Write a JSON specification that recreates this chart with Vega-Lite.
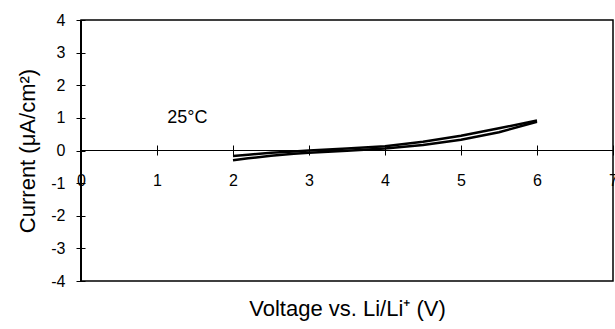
{
  "$schema": "https://vega.github.io/schema/vega-lite/v6.json",
  "width": 532,
  "height": 261,
  "autosize": {"type": "none"},
  "padding": {"left": 81, "top": 20, "right": 2, "bottom": 48},
  "background": "white",
  "config": {
    "font": "Liberation Sans",
    "view": {"stroke": "black", "strokeWidth": 1.5},
    "axis": {"grid": false}
  },
  "datasets": {
    "cv": [
      {"v": 2.0, "i": -0.3, "branch": "forward", "k": 1},
      {"v": 2.2, "i": -0.24, "branch": "forward", "k": 2},
      {"v": 2.5, "i": -0.16, "branch": "forward", "k": 3},
      {"v": 2.8, "i": -0.1, "branch": "forward", "k": 4},
      {"v": 3.0, "i": -0.07, "branch": "forward", "k": 5},
      {"v": 3.5, "i": -0.01, "branch": "forward", "k": 6},
      {"v": 4.0, "i": 0.06, "branch": "forward", "k": 7},
      {"v": 4.5, "i": 0.17, "branch": "forward", "k": 8},
      {"v": 5.0, "i": 0.33, "branch": "forward", "k": 9},
      {"v": 5.5, "i": 0.56, "branch": "forward", "k": 10},
      {"v": 6.0, "i": 0.88, "branch": "forward", "k": 11},
      {"v": 6.0, "i": 0.92, "branch": "reverse", "k": 12},
      {"v": 5.5, "i": 0.68, "branch": "reverse", "k": 13},
      {"v": 5.0, "i": 0.45, "branch": "reverse", "k": 14},
      {"v": 4.5, "i": 0.27, "branch": "reverse", "k": 15},
      {"v": 4.0, "i": 0.13, "branch": "reverse", "k": 16},
      {"v": 3.5, "i": 0.06, "branch": "reverse", "k": 17},
      {"v": 3.0, "i": 0.0, "branch": "reverse", "k": 18},
      {"v": 2.8, "i": -0.03, "branch": "reverse", "k": 19},
      {"v": 2.5, "i": -0.07, "branch": "reverse", "k": 20},
      {"v": 2.2, "i": -0.13, "branch": "reverse", "k": 21},
      {"v": 2.0, "i": -0.17, "branch": "reverse", "k": 22}
    ],
    "labels": [{"v": 1.4, "i": 1.0, "label": "25°C"}],
    "zero": [{"i": 0}],
    "left": [{"v": 0}]
  },
  "encoding": {
    "x": {
      "field": "v",
      "type": "quantitative",
      "scale": {"domain": [0, 7], "nice": false, "zero": false},
      "axis": {
        "orient": "bottom",
        "offset": -136,
        "values": [0, 1, 2, 3, 4, 5, 6, 7],
        "labelExpr": "'' + datum.value",
        "domain": false,
        "tickSize": 10,
        "tickColor": "black",
        "tickWidth": 1,
        "labelPadding": 17,
        "labelFontSize": 16,
        "labelColor": "black",
        "labelOverlap": false,
        "labelFlush": false,
        "title": "Voltage vs. Li/Li⁺ (V)",
        "titleFontSize": 22,
        "titleFontWeight": "normal",
        "titleColor": "black",
        "titleY": 170,
        "titleBaseline": "alphabetic"
      }
    },
    "y": {
      "field": "i",
      "type": "quantitative",
      "scale": {"domain": [-4, 4], "nice": false, "zero": false},
      "axis": {
        "orient": "left",
        "values": [-4, -3, -2, -1, 0, 1, 2, 3, 4],
        "labelExpr": "'' + datum.value",
        "domain": false,
        "offset": -4,
        "tickSize": 9,
        "tickColor": "black",
        "tickWidth": 1,
        "labelPadding": 11,
        "labelFontSize": 16,
        "labelColor": "black",
        "labelOverlap": false,
        "labelFlush": false,
        "title": "Current (μA/cm²)",
        "titleFontSize": 22,
        "titleFontWeight": "normal",
        "titleColor": "black",
        "titleX": -51,
        "titleBaseline": "alphabetic"
      }
    }
  },
  "layer": [
    {
      "data": {"name": "zero"},
      "mark": {"type": "rule", "color": "black", "strokeWidth": 1},
      "encoding": {"x": null}
    },
    {
      "data": {"name": "left"},
      "mark": {"type": "rule", "color": "black", "strokeWidth": 2},
      "encoding": {"y": null}
    },
    {
      "data": {"name": "cv"},
      "mark": {"type": "line", "color": "black", "strokeWidth": 2.5},
      "encoding": {
        "detail": {"field": "branch"},
        "order": {"field": "k"}
      }
    },
    {
      "data": {"name": "labels"},
      "mark": {"type": "text", "fontSize": 18, "color": "black", "align": "center", "baseline": "middle"},
      "encoding": {
        "text": {"field": "label"}
      }
    }
  ]
}
